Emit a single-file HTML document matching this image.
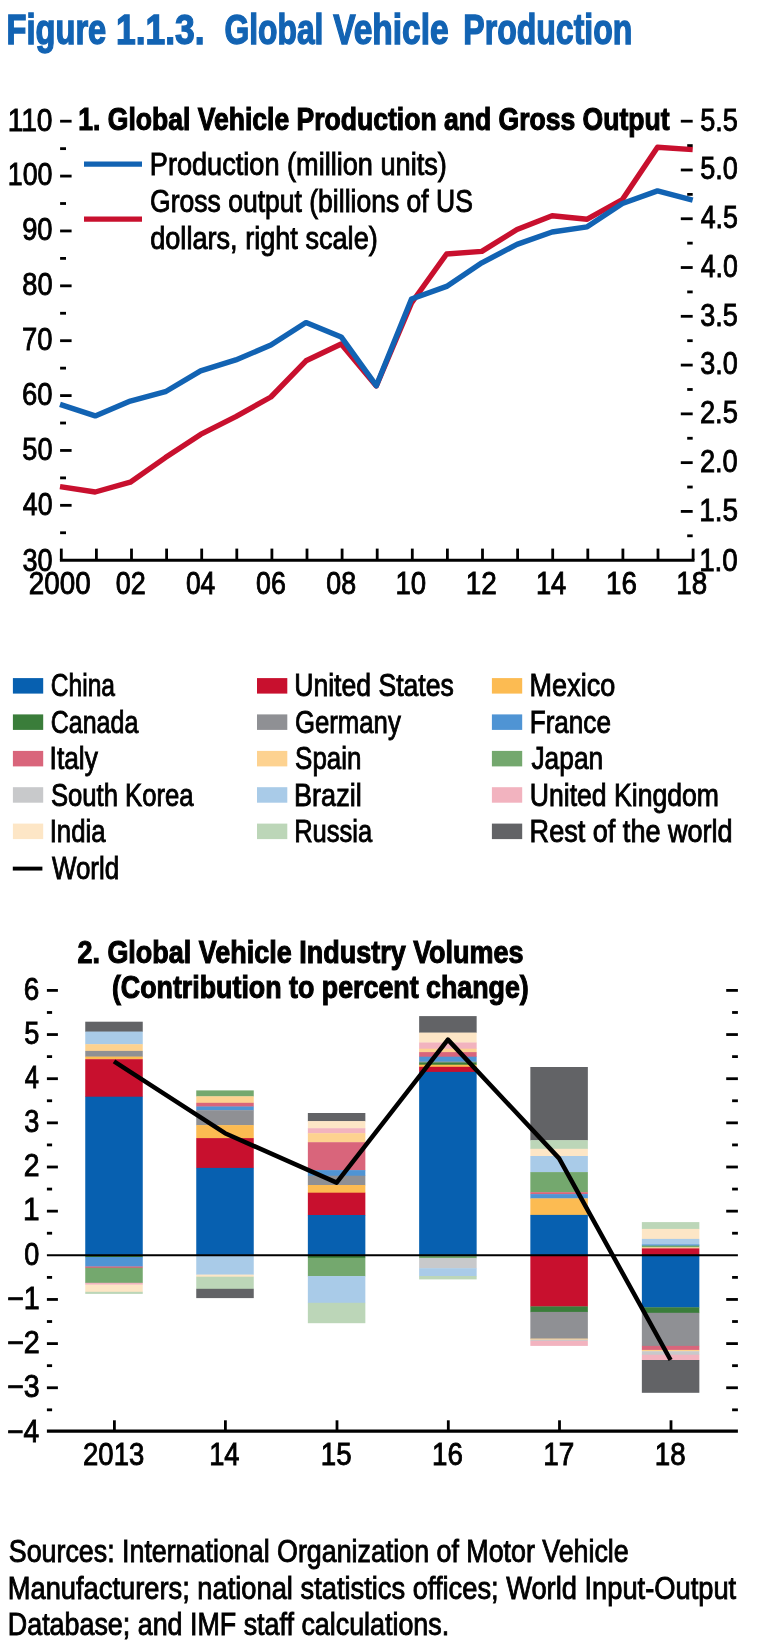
<!DOCTYPE html>
<html><head><meta charset="utf-8"><title>Figure 1.1.3. Global Vehicle Production</title>
<style>
html,body{margin:0;padding:0;background:#fff}
svg{display:block}
text{font-family:"Liberation Sans",sans-serif;white-space:pre}
</style></head><body>
<svg style="will-change:transform" width="774" height="1646" viewBox="0 0 774 1646" shape-rendering="geometricPrecision">
<rect width="774" height="1646" fill="#fff"/>
<line x1="60.10" y1="532.76" x2="66.00" y2="532.76" stroke="#000" stroke-width="2.8" stroke-linecap="butt"/>
<line x1="60.10" y1="505.33" x2="71.60" y2="505.33" stroke="#000" stroke-width="2.8" stroke-linecap="butt"/>
<line x1="60.10" y1="477.89" x2="66.00" y2="477.89" stroke="#000" stroke-width="2.8" stroke-linecap="butt"/>
<line x1="60.10" y1="450.45" x2="71.60" y2="450.45" stroke="#000" stroke-width="2.8" stroke-linecap="butt"/>
<line x1="60.10" y1="423.01" x2="66.00" y2="423.01" stroke="#000" stroke-width="2.8" stroke-linecap="butt"/>
<line x1="60.10" y1="395.58" x2="71.60" y2="395.58" stroke="#000" stroke-width="2.8" stroke-linecap="butt"/>
<line x1="60.10" y1="368.14" x2="66.00" y2="368.14" stroke="#000" stroke-width="2.8" stroke-linecap="butt"/>
<line x1="60.10" y1="340.70" x2="71.60" y2="340.70" stroke="#000" stroke-width="2.8" stroke-linecap="butt"/>
<line x1="60.10" y1="313.26" x2="66.00" y2="313.26" stroke="#000" stroke-width="2.8" stroke-linecap="butt"/>
<line x1="60.10" y1="285.83" x2="71.60" y2="285.83" stroke="#000" stroke-width="2.8" stroke-linecap="butt"/>
<line x1="60.10" y1="258.39" x2="66.00" y2="258.39" stroke="#000" stroke-width="2.8" stroke-linecap="butt"/>
<line x1="60.10" y1="230.95" x2="71.60" y2="230.95" stroke="#000" stroke-width="2.8" stroke-linecap="butt"/>
<line x1="60.10" y1="203.51" x2="66.00" y2="203.51" stroke="#000" stroke-width="2.8" stroke-linecap="butt"/>
<line x1="60.10" y1="176.08" x2="71.60" y2="176.08" stroke="#000" stroke-width="2.8" stroke-linecap="butt"/>
<line x1="60.10" y1="148.64" x2="66.00" y2="148.64" stroke="#000" stroke-width="2.8" stroke-linecap="butt"/>
<line x1="60.10" y1="121.20" x2="71.60" y2="121.20" stroke="#000" stroke-width="2.8" stroke-linecap="butt"/>
<line x1="687.20" y1="535.81" x2="692.70" y2="535.81" stroke="#000" stroke-width="2.8" stroke-linecap="butt"/>
<line x1="680.80" y1="511.42" x2="692.70" y2="511.42" stroke="#000" stroke-width="2.8" stroke-linecap="butt"/>
<line x1="687.20" y1="487.03" x2="692.70" y2="487.03" stroke="#000" stroke-width="2.8" stroke-linecap="butt"/>
<line x1="680.80" y1="462.64" x2="692.70" y2="462.64" stroke="#000" stroke-width="2.8" stroke-linecap="butt"/>
<line x1="687.20" y1="438.26" x2="692.70" y2="438.26" stroke="#000" stroke-width="2.8" stroke-linecap="butt"/>
<line x1="680.80" y1="413.87" x2="692.70" y2="413.87" stroke="#000" stroke-width="2.8" stroke-linecap="butt"/>
<line x1="687.20" y1="389.48" x2="692.70" y2="389.48" stroke="#000" stroke-width="2.8" stroke-linecap="butt"/>
<line x1="680.80" y1="365.09" x2="692.70" y2="365.09" stroke="#000" stroke-width="2.8" stroke-linecap="butt"/>
<line x1="687.20" y1="340.70" x2="692.70" y2="340.70" stroke="#000" stroke-width="2.8" stroke-linecap="butt"/>
<line x1="680.80" y1="316.31" x2="692.70" y2="316.31" stroke="#000" stroke-width="2.8" stroke-linecap="butt"/>
<line x1="687.20" y1="291.92" x2="692.70" y2="291.92" stroke="#000" stroke-width="2.8" stroke-linecap="butt"/>
<line x1="680.80" y1="267.53" x2="692.70" y2="267.53" stroke="#000" stroke-width="2.8" stroke-linecap="butt"/>
<line x1="687.20" y1="243.14" x2="692.70" y2="243.14" stroke="#000" stroke-width="2.8" stroke-linecap="butt"/>
<line x1="680.80" y1="218.75" x2="692.70" y2="218.75" stroke="#000" stroke-width="2.8" stroke-linecap="butt"/>
<line x1="687.20" y1="194.37" x2="692.70" y2="194.37" stroke="#000" stroke-width="2.8" stroke-linecap="butt"/>
<line x1="680.80" y1="169.98" x2="692.70" y2="169.98" stroke="#000" stroke-width="2.8" stroke-linecap="butt"/>
<line x1="687.20" y1="145.59" x2="692.70" y2="145.59" stroke="#000" stroke-width="2.8" stroke-linecap="butt"/>
<line x1="680.80" y1="121.20" x2="692.70" y2="121.20" stroke="#000" stroke-width="2.8" stroke-linecap="butt"/>
<line x1="59.90" y1="560.20" x2="694.50" y2="560.20" stroke="#000" stroke-width="3.1" stroke-linecap="butt"/>
<line x1="61.30" y1="548.60" x2="61.30" y2="560.20" stroke="#000" stroke-width="2.8" stroke-linecap="butt"/>
<line x1="96.40" y1="548.60" x2="96.40" y2="560.20" stroke="#000" stroke-width="2.8" stroke-linecap="butt"/>
<line x1="131.50" y1="548.60" x2="131.50" y2="560.20" stroke="#000" stroke-width="2.8" stroke-linecap="butt"/>
<line x1="166.60" y1="548.60" x2="166.60" y2="560.20" stroke="#000" stroke-width="2.8" stroke-linecap="butt"/>
<line x1="201.70" y1="548.60" x2="201.70" y2="560.20" stroke="#000" stroke-width="2.8" stroke-linecap="butt"/>
<line x1="236.80" y1="548.60" x2="236.80" y2="560.20" stroke="#000" stroke-width="2.8" stroke-linecap="butt"/>
<line x1="271.90" y1="548.60" x2="271.90" y2="560.20" stroke="#000" stroke-width="2.8" stroke-linecap="butt"/>
<line x1="307.00" y1="548.60" x2="307.00" y2="560.20" stroke="#000" stroke-width="2.8" stroke-linecap="butt"/>
<line x1="342.10" y1="548.60" x2="342.10" y2="560.20" stroke="#000" stroke-width="2.8" stroke-linecap="butt"/>
<line x1="377.20" y1="548.60" x2="377.20" y2="560.20" stroke="#000" stroke-width="2.8" stroke-linecap="butt"/>
<line x1="412.30" y1="548.60" x2="412.30" y2="560.20" stroke="#000" stroke-width="2.8" stroke-linecap="butt"/>
<line x1="447.40" y1="548.60" x2="447.40" y2="560.20" stroke="#000" stroke-width="2.8" stroke-linecap="butt"/>
<line x1="482.50" y1="548.60" x2="482.50" y2="560.20" stroke="#000" stroke-width="2.8" stroke-linecap="butt"/>
<line x1="517.60" y1="548.60" x2="517.60" y2="560.20" stroke="#000" stroke-width="2.8" stroke-linecap="butt"/>
<line x1="552.70" y1="548.60" x2="552.70" y2="560.20" stroke="#000" stroke-width="2.8" stroke-linecap="butt"/>
<line x1="587.80" y1="548.60" x2="587.80" y2="560.20" stroke="#000" stroke-width="2.8" stroke-linecap="butt"/>
<line x1="622.90" y1="548.60" x2="622.90" y2="560.20" stroke="#000" stroke-width="2.8" stroke-linecap="butt"/>
<line x1="658.00" y1="548.60" x2="658.00" y2="560.20" stroke="#000" stroke-width="2.8" stroke-linecap="butt"/>
<line x1="693.10" y1="548.60" x2="693.10" y2="560.20" stroke="#000" stroke-width="2.8" stroke-linecap="butt"/>
<line x1="84.00" y1="164.20" x2="142.00" y2="164.20" stroke="#1263b3" stroke-width="5.3" stroke-linecap="butt"/>
<line x1="84.00" y1="219.20" x2="142.00" y2="219.20" stroke="#c8102e" stroke-width="5.3" stroke-linecap="butt"/>
<polyline points="60.0,486.6 95.2,492.0 130.3,482.2 165.4,457.6 200.6,434.4 235.8,416.6 270.9,397.0 306.0,360.8 341.2,344.0 376.3,386.0 411.5,303.0 446.6,254.0 481.8,251.4 517.0,229.5 552.1,215.8 587.2,219.2 622.4,199.5 657.5,147.3 692.7,149.6" fill="none" stroke="#c8102e" stroke-width="5.4" stroke-linejoin="round"/>
<polyline points="60.0,404.4 95.2,415.9 130.3,401.1 165.4,391.7 200.6,370.9 235.8,359.9 270.9,345.1 306.0,322.6 341.2,336.9 376.3,385.7 411.5,299.0 446.6,286.4 481.8,262.8 517.0,244.4 552.1,232.0 587.2,226.8 622.4,203.5 657.5,190.9 692.7,200.2" fill="none" stroke="#1263b3" stroke-width="5.4" stroke-linejoin="round"/>
<rect x="12.90" y="678.10" width="30.30" height="15.50" fill="#0760b0"/>
<rect x="257.00" y="678.10" width="30.30" height="15.50" fill="#c8102e"/>
<rect x="491.90" y="678.10" width="30.30" height="15.50" fill="#fcbb52"/>
<rect x="12.90" y="714.40" width="30.30" height="15.50" fill="#3a7d3a"/>
<rect x="257.00" y="714.40" width="30.30" height="15.50" fill="#8f9094"/>
<rect x="491.90" y="714.40" width="30.30" height="15.50" fill="#4f94d4"/>
<rect x="12.90" y="750.90" width="30.30" height="15.50" fill="#d9657b"/>
<rect x="257.00" y="750.90" width="30.30" height="15.50" fill="#fdd290"/>
<rect x="491.90" y="750.90" width="30.30" height="15.50" fill="#74a86e"/>
<rect x="12.90" y="787.20" width="30.30" height="15.50" fill="#c8c9cb"/>
<rect x="257.00" y="787.20" width="30.30" height="15.50" fill="#a9cbe8"/>
<rect x="491.90" y="787.20" width="30.30" height="15.50" fill="#f2b3bf"/>
<rect x="12.90" y="823.60" width="30.30" height="15.50" fill="#fde6c6"/>
<rect x="257.00" y="823.60" width="30.30" height="15.50" fill="#bcd6b8"/>
<rect x="491.90" y="823.60" width="30.30" height="15.50" fill="#626366"/>
<line x1="12.80" y1="868.60" x2="42.40" y2="868.60" stroke="#000" stroke-width="3.9" stroke-linecap="butt"/>
<line x1="46.90" y1="1409.83" x2="52.10" y2="1409.83" stroke="#000" stroke-width="2.8" stroke-linecap="butt"/>
<line x1="732.10" y1="1409.83" x2="737.90" y2="1409.83" stroke="#000" stroke-width="2.8" stroke-linecap="butt"/>
<line x1="46.90" y1="1387.75" x2="57.90" y2="1387.75" stroke="#000" stroke-width="2.8" stroke-linecap="butt"/>
<line x1="46.90" y1="1365.67" x2="52.10" y2="1365.67" stroke="#000" stroke-width="2.8" stroke-linecap="butt"/>
<line x1="726.20" y1="1387.75" x2="737.90" y2="1387.75" stroke="#000" stroke-width="2.8" stroke-linecap="butt"/>
<line x1="732.10" y1="1365.67" x2="737.90" y2="1365.67" stroke="#000" stroke-width="2.8" stroke-linecap="butt"/>
<line x1="46.90" y1="1343.60" x2="57.90" y2="1343.60" stroke="#000" stroke-width="2.8" stroke-linecap="butt"/>
<line x1="46.90" y1="1321.52" x2="52.10" y2="1321.52" stroke="#000" stroke-width="2.8" stroke-linecap="butt"/>
<line x1="726.20" y1="1343.60" x2="737.90" y2="1343.60" stroke="#000" stroke-width="2.8" stroke-linecap="butt"/>
<line x1="732.10" y1="1321.52" x2="737.90" y2="1321.52" stroke="#000" stroke-width="2.8" stroke-linecap="butt"/>
<line x1="46.90" y1="1299.45" x2="57.90" y2="1299.45" stroke="#000" stroke-width="2.8" stroke-linecap="butt"/>
<line x1="46.90" y1="1277.38" x2="52.10" y2="1277.38" stroke="#000" stroke-width="2.8" stroke-linecap="butt"/>
<line x1="726.20" y1="1299.45" x2="737.90" y2="1299.45" stroke="#000" stroke-width="2.8" stroke-linecap="butt"/>
<line x1="732.10" y1="1277.38" x2="737.90" y2="1277.38" stroke="#000" stroke-width="2.8" stroke-linecap="butt"/>
<line x1="46.90" y1="1233.22" x2="52.10" y2="1233.22" stroke="#000" stroke-width="2.8" stroke-linecap="butt"/>
<line x1="732.10" y1="1233.22" x2="737.90" y2="1233.22" stroke="#000" stroke-width="2.8" stroke-linecap="butt"/>
<line x1="46.90" y1="1211.15" x2="57.90" y2="1211.15" stroke="#000" stroke-width="2.8" stroke-linecap="butt"/>
<line x1="46.90" y1="1189.08" x2="52.10" y2="1189.08" stroke="#000" stroke-width="2.8" stroke-linecap="butt"/>
<line x1="726.20" y1="1211.15" x2="737.90" y2="1211.15" stroke="#000" stroke-width="2.8" stroke-linecap="butt"/>
<line x1="732.10" y1="1189.08" x2="737.90" y2="1189.08" stroke="#000" stroke-width="2.8" stroke-linecap="butt"/>
<line x1="46.90" y1="1167.00" x2="57.90" y2="1167.00" stroke="#000" stroke-width="2.8" stroke-linecap="butt"/>
<line x1="46.90" y1="1144.92" x2="52.10" y2="1144.92" stroke="#000" stroke-width="2.8" stroke-linecap="butt"/>
<line x1="726.20" y1="1167.00" x2="737.90" y2="1167.00" stroke="#000" stroke-width="2.8" stroke-linecap="butt"/>
<line x1="732.10" y1="1144.92" x2="737.90" y2="1144.92" stroke="#000" stroke-width="2.8" stroke-linecap="butt"/>
<line x1="46.90" y1="1122.85" x2="57.90" y2="1122.85" stroke="#000" stroke-width="2.8" stroke-linecap="butt"/>
<line x1="46.90" y1="1100.77" x2="52.10" y2="1100.77" stroke="#000" stroke-width="2.8" stroke-linecap="butt"/>
<line x1="726.20" y1="1122.85" x2="737.90" y2="1122.85" stroke="#000" stroke-width="2.8" stroke-linecap="butt"/>
<line x1="732.10" y1="1100.77" x2="737.90" y2="1100.77" stroke="#000" stroke-width="2.8" stroke-linecap="butt"/>
<line x1="46.90" y1="1078.70" x2="57.90" y2="1078.70" stroke="#000" stroke-width="2.8" stroke-linecap="butt"/>
<line x1="46.90" y1="1056.62" x2="52.10" y2="1056.62" stroke="#000" stroke-width="2.8" stroke-linecap="butt"/>
<line x1="726.20" y1="1078.70" x2="737.90" y2="1078.70" stroke="#000" stroke-width="2.8" stroke-linecap="butt"/>
<line x1="732.10" y1="1056.62" x2="737.90" y2="1056.62" stroke="#000" stroke-width="2.8" stroke-linecap="butt"/>
<line x1="46.90" y1="1034.55" x2="57.90" y2="1034.55" stroke="#000" stroke-width="2.8" stroke-linecap="butt"/>
<line x1="46.90" y1="1012.47" x2="52.10" y2="1012.47" stroke="#000" stroke-width="2.8" stroke-linecap="butt"/>
<line x1="726.20" y1="1034.55" x2="737.90" y2="1034.55" stroke="#000" stroke-width="2.8" stroke-linecap="butt"/>
<line x1="732.10" y1="1012.47" x2="737.90" y2="1012.47" stroke="#000" stroke-width="2.8" stroke-linecap="butt"/>
<line x1="46.90" y1="990.40" x2="57.90" y2="990.40" stroke="#000" stroke-width="2.8" stroke-linecap="butt"/>
<line x1="726.20" y1="990.40" x2="737.90" y2="990.40" stroke="#000" stroke-width="2.8" stroke-linecap="butt"/>
<rect x="85.25" y="1021.70" width="57.50" height="10.20" fill="#626366"/>
<rect x="85.25" y="1031.60" width="57.50" height="12.90" fill="#a9cbe8"/>
<rect x="85.25" y="1044.20" width="57.50" height="7.00" fill="#fdd290"/>
<rect x="85.25" y="1050.90" width="57.50" height="6.00" fill="#8f9094"/>
<rect x="85.25" y="1056.60" width="57.50" height="2.90" fill="#fcbb52"/>
<rect x="85.25" y="1059.20" width="57.50" height="37.80" fill="#c8102e"/>
<rect x="85.25" y="1096.70" width="57.50" height="158.50" fill="#0760b0"/>
<rect x="85.25" y="1254.90" width="57.50" height="2.40" fill="#3a7d3a"/>
<rect x="85.25" y="1257.00" width="57.50" height="9.80" fill="#4f94d4"/>
<rect x="85.25" y="1266.50" width="57.50" height="1.60" fill="#d9657b"/>
<rect x="85.25" y="1267.80" width="57.50" height="15.30" fill="#74a86e"/>
<rect x="85.25" y="1282.80" width="57.50" height="2.10" fill="#f2b3bf"/>
<rect x="85.25" y="1284.60" width="57.50" height="7.50" fill="#fde6c6"/>
<rect x="85.25" y="1291.80" width="57.50" height="2.10" fill="#bcd6b8"/>
<rect x="196.25" y="1090.40" width="57.50" height="6.20" fill="#74a86e"/>
<rect x="196.25" y="1096.30" width="57.50" height="6.80" fill="#fdd290"/>
<rect x="196.25" y="1102.80" width="57.50" height="4.00" fill="#d9657b"/>
<rect x="196.25" y="1106.50" width="57.50" height="4.00" fill="#4f94d4"/>
<rect x="196.25" y="1110.20" width="57.50" height="15.20" fill="#8f9094"/>
<rect x="196.25" y="1125.10" width="57.50" height="13.30" fill="#fcbb52"/>
<rect x="196.25" y="1138.10" width="57.50" height="30.10" fill="#c8102e"/>
<rect x="196.25" y="1167.90" width="57.50" height="87.30" fill="#0760b0"/>
<rect x="196.25" y="1254.90" width="57.50" height="20.00" fill="#a9cbe8"/>
<rect x="196.25" y="1274.60" width="57.50" height="2.40" fill="#fde6c6"/>
<rect x="196.25" y="1276.70" width="57.50" height="12.40" fill="#bcd6b8"/>
<rect x="196.25" y="1288.80" width="57.50" height="9.30" fill="#626366"/>
<rect x="307.85" y="1113.00" width="57.50" height="8.40" fill="#626366"/>
<rect x="307.85" y="1121.10" width="57.50" height="7.40" fill="#fde6c6"/>
<rect x="307.85" y="1128.20" width="57.50" height="5.30" fill="#f2b3bf"/>
<rect x="307.85" y="1133.20" width="57.50" height="9.30" fill="#fdd290"/>
<rect x="307.85" y="1142.20" width="57.50" height="28.20" fill="#d9657b"/>
<rect x="307.85" y="1170.10" width="57.50" height="5.90" fill="#4f94d4"/>
<rect x="307.85" y="1175.70" width="57.50" height="9.60" fill="#8f9094"/>
<rect x="307.85" y="1185.00" width="57.50" height="8.00" fill="#fcbb52"/>
<rect x="307.85" y="1192.70" width="57.50" height="22.60" fill="#c8102e"/>
<rect x="307.85" y="1215.00" width="57.50" height="40.20" fill="#0760b0"/>
<rect x="307.85" y="1254.90" width="57.50" height="3.20" fill="#3a7d3a"/>
<rect x="307.85" y="1257.80" width="57.50" height="18.60" fill="#74a86e"/>
<rect x="307.85" y="1276.10" width="57.50" height="27.00" fill="#a9cbe8"/>
<rect x="307.85" y="1302.80" width="57.50" height="20.40" fill="#bcd6b8"/>
<rect x="419.15" y="1016.10" width="57.50" height="16.80" fill="#626366"/>
<rect x="419.15" y="1032.60" width="57.50" height="10.20" fill="#fde6c6"/>
<rect x="419.15" y="1042.50" width="57.50" height="6.50" fill="#f2b3bf"/>
<rect x="419.15" y="1048.70" width="57.50" height="3.70" fill="#fdd290"/>
<rect x="419.15" y="1052.10" width="57.50" height="4.90" fill="#d9657b"/>
<rect x="419.15" y="1056.70" width="57.50" height="5.20" fill="#4f94d4"/>
<rect x="419.15" y="1061.60" width="57.50" height="1.10" fill="#8f9094"/>
<rect x="419.15" y="1062.40" width="57.50" height="2.60" fill="#3a7d3a"/>
<rect x="419.15" y="1064.70" width="57.50" height="2.40" fill="#fcbb52"/>
<rect x="419.15" y="1066.80" width="57.50" height="5.40" fill="#c8102e"/>
<rect x="419.15" y="1071.90" width="57.50" height="183.30" fill="#0760b0"/>
<rect x="419.15" y="1254.90" width="57.50" height="3.40" fill="#74a86e"/>
<rect x="419.15" y="1258.00" width="57.50" height="10.50" fill="#c8c9cb"/>
<rect x="419.15" y="1268.20" width="57.50" height="8.10" fill="#a9cbe8"/>
<rect x="419.15" y="1276.00" width="57.50" height="3.40" fill="#bcd6b8"/>
<rect x="530.35" y="1067.00" width="57.50" height="73.50" fill="#626366"/>
<rect x="530.35" y="1140.20" width="57.50" height="8.90" fill="#bcd6b8"/>
<rect x="530.35" y="1148.80" width="57.50" height="7.50" fill="#fde6c6"/>
<rect x="530.35" y="1156.00" width="57.50" height="16.40" fill="#a9cbe8"/>
<rect x="530.35" y="1172.10" width="57.50" height="20.40" fill="#74a86e"/>
<rect x="530.35" y="1192.20" width="57.50" height="2.20" fill="#d9657b"/>
<rect x="530.35" y="1194.10" width="57.50" height="4.60" fill="#4f94d4"/>
<rect x="530.35" y="1198.40" width="57.50" height="16.80" fill="#fcbb52"/>
<rect x="530.35" y="1214.90" width="57.50" height="40.30" fill="#0760b0"/>
<rect x="530.35" y="1254.90" width="57.50" height="51.80" fill="#c8102e"/>
<rect x="530.35" y="1306.40" width="57.50" height="5.80" fill="#3a7d3a"/>
<rect x="530.35" y="1311.90" width="57.50" height="27.00" fill="#8f9094"/>
<rect x="530.35" y="1338.60" width="57.50" height="1.30" fill="#fdd290"/>
<rect x="530.35" y="1339.60" width="57.50" height="1.50" fill="#c8c9cb"/>
<rect x="530.35" y="1340.80" width="57.50" height="5.10" fill="#f2b3bf"/>
<rect x="641.85" y="1222.10" width="57.50" height="7.10" fill="#bcd6b8"/>
<rect x="641.85" y="1228.90" width="57.50" height="10.30" fill="#fde6c6"/>
<rect x="641.85" y="1238.90" width="57.50" height="5.80" fill="#a9cbe8"/>
<rect x="641.85" y="1244.40" width="57.50" height="1.50" fill="#4f94d4"/>
<rect x="641.85" y="1245.60" width="57.50" height="2.00" fill="#74a86e"/>
<rect x="641.85" y="1247.30" width="57.50" height="1.40" fill="#fdd290"/>
<rect x="641.85" y="1248.40" width="57.50" height="6.80" fill="#c8102e"/>
<rect x="641.85" y="1254.90" width="57.50" height="52.70" fill="#0760b0"/>
<rect x="641.85" y="1307.30" width="57.50" height="5.80" fill="#3a7d3a"/>
<rect x="641.85" y="1312.80" width="57.50" height="33.40" fill="#8f9094"/>
<rect x="641.85" y="1345.90" width="57.50" height="4.30" fill="#d9657b"/>
<rect x="641.85" y="1349.90" width="57.50" height="1.60" fill="#fdd290"/>
<rect x="641.85" y="1351.20" width="57.50" height="3.80" fill="#c8c9cb"/>
<rect x="641.85" y="1354.70" width="57.50" height="5.60" fill="#f2b3bf"/>
<rect x="641.85" y="1360.00" width="57.50" height="32.80" fill="#626366"/>
<line x1="46.90" y1="1255.20" x2="737.90" y2="1255.20" stroke="#000" stroke-width="2.0" stroke-linecap="butt"/>
<polyline points="114.0,1061.4 225.0,1133.2 336.6,1182.6 447.9,1039.6 559.1,1158.4 670.6,1360.0" fill="none" stroke="#000" stroke-width="4.5" stroke-linejoin="round"/>
<line x1="46.90" y1="1431.10" x2="737.90" y2="1431.10" stroke="#000" stroke-width="3.1" stroke-linecap="butt"/>
<line x1="114.40" y1="1420.30" x2="114.40" y2="1430.90" stroke="#000" stroke-width="2.8" stroke-linecap="butt"/>
<line x1="225.40" y1="1420.30" x2="225.40" y2="1430.90" stroke="#000" stroke-width="2.8" stroke-linecap="butt"/>
<line x1="337.00" y1="1420.30" x2="337.00" y2="1430.90" stroke="#000" stroke-width="2.8" stroke-linecap="butt"/>
<line x1="448.30" y1="1420.30" x2="448.30" y2="1430.90" stroke="#000" stroke-width="2.8" stroke-linecap="butt"/>
<line x1="559.50" y1="1420.30" x2="559.50" y2="1430.90" stroke="#000" stroke-width="2.8" stroke-linecap="butt"/>
<line x1="671.00" y1="1420.30" x2="671.00" y2="1430.90" stroke="#000" stroke-width="2.8" stroke-linecap="butt"/>
<g class="kb">
<text x="6.50" y="43.50" font-size="42.60" textLength="99.79" lengthAdjust="spacingAndGlyphs" font-weight="700" fill="#1263b3" stroke="#1263b3" stroke-width="1.4">Figure</text>
<text x="115.98" y="43.50" font-size="42.60" textLength="88.69" lengthAdjust="spacingAndGlyphs" font-weight="700" fill="#1263b3" stroke="#1263b3" stroke-width="1.4">1.1.3.</text>
<text x="224.43" y="43.50" font-size="42.60" textLength="99.05" lengthAdjust="spacingAndGlyphs" font-weight="700" fill="#1263b3" stroke="#1263b3" stroke-width="1.4">Global</text>
<text x="333.15" y="43.50" font-size="42.60" textLength="115.61" lengthAdjust="spacingAndGlyphs" font-weight="700" fill="#1263b3" stroke="#1263b3" stroke-width="1.4">Vehicle</text>
<text x="463.34" y="43.50" font-size="42.60" textLength="169.08" lengthAdjust="spacingAndGlyphs" font-weight="700" fill="#1263b3" stroke="#1263b3" stroke-width="1.4">Production</text>
</g>
<g class="kk">
<text x="22.44" y="570.80" font-size="31.30" textLength="30.09" lengthAdjust="spacingAndGlyphs" stroke="#000" stroke-width="0.9">30</text>
<text x="22.85" y="514.73" font-size="31.30" textLength="29.66" lengthAdjust="spacingAndGlyphs" stroke="#000" stroke-width="0.9">40</text>
<text x="22.37" y="459.85" font-size="31.30" textLength="30.17" lengthAdjust="spacingAndGlyphs" stroke="#000" stroke-width="0.9">50</text>
<text x="22.08" y="404.98" font-size="31.30" textLength="30.46" lengthAdjust="spacingAndGlyphs" stroke="#000" stroke-width="0.9">60</text>
<text x="22.08" y="350.10" font-size="31.30" textLength="30.46" lengthAdjust="spacingAndGlyphs" stroke="#000" stroke-width="0.9">70</text>
<text x="22.29" y="295.23" font-size="31.30" textLength="30.24" lengthAdjust="spacingAndGlyphs" stroke="#000" stroke-width="0.9">80</text>
<text x="22.15" y="240.35" font-size="31.30" textLength="30.39" lengthAdjust="spacingAndGlyphs" stroke="#000" stroke-width="0.9">90</text>
<text x="7.74" y="185.48" font-size="31.30" textLength="44.74" lengthAdjust="spacingAndGlyphs" stroke="#000" stroke-width="0.9">100</text>
<text x="7.64" y="130.60" font-size="31.30" textLength="44.92" lengthAdjust="spacingAndGlyphs" stroke="#000" stroke-width="0.9">110</text>
<text x="699.17" y="570.80" font-size="31.30" textLength="38.63" lengthAdjust="spacingAndGlyphs" stroke="#000" stroke-width="0.9">1.0</text>
<text x="699.16" y="520.82" font-size="31.30" textLength="38.71" lengthAdjust="spacingAndGlyphs" stroke="#000" stroke-width="0.9">1.5</text>
<text x="699.89" y="472.04" font-size="31.30" textLength="37.89" lengthAdjust="spacingAndGlyphs" stroke="#000" stroke-width="0.9">2.0</text>
<text x="699.88" y="423.27" font-size="31.30" textLength="37.96" lengthAdjust="spacingAndGlyphs" stroke="#000" stroke-width="0.9">2.5</text>
<text x="700.24" y="374.49" font-size="31.30" textLength="37.53" lengthAdjust="spacingAndGlyphs" stroke="#000" stroke-width="0.9">3.0</text>
<text x="700.24" y="325.71" font-size="31.30" textLength="37.60" lengthAdjust="spacingAndGlyphs" stroke="#000" stroke-width="0.9">3.5</text>
<text x="700.65" y="276.93" font-size="31.30" textLength="37.11" lengthAdjust="spacingAndGlyphs" stroke="#000" stroke-width="0.9">4.0</text>
<text x="700.65" y="228.15" font-size="31.30" textLength="37.18" lengthAdjust="spacingAndGlyphs" stroke="#000" stroke-width="0.9">4.5</text>
<text x="700.17" y="179.38" font-size="31.30" textLength="37.60" lengthAdjust="spacingAndGlyphs" stroke="#000" stroke-width="0.9">5.0</text>
<text x="700.17" y="130.60" font-size="31.30" textLength="37.67" lengthAdjust="spacingAndGlyphs" stroke="#000" stroke-width="0.9">5.5</text>
<text x="28.86" y="594.20" font-size="31.30" textLength="61.79" lengthAdjust="spacingAndGlyphs" stroke="#000" stroke-width="0.9">2000</text>
<text x="115.67" y="594.20" font-size="31.30" textLength="29.99" lengthAdjust="spacingAndGlyphs" stroke="#000" stroke-width="0.9">02</text>
<text x="185.89" y="594.20" font-size="31.30" textLength="29.34" lengthAdjust="spacingAndGlyphs" stroke="#000" stroke-width="0.9">04</text>
<text x="256.08" y="594.20" font-size="31.30" textLength="29.77" lengthAdjust="spacingAndGlyphs" stroke="#000" stroke-width="0.9">06</text>
<text x="326.28" y="594.20" font-size="31.30" textLength="29.77" lengthAdjust="spacingAndGlyphs" stroke="#000" stroke-width="0.9">08</text>
<text x="395.48" y="594.20" font-size="31.30" textLength="30.67" lengthAdjust="spacingAndGlyphs" stroke="#000" stroke-width="0.9">10</text>
<text x="465.66" y="594.20" font-size="31.30" textLength="31.06" lengthAdjust="spacingAndGlyphs" stroke="#000" stroke-width="0.9">12</text>
<text x="535.90" y="594.20" font-size="31.30" textLength="30.36" lengthAdjust="spacingAndGlyphs" stroke="#000" stroke-width="0.9">14</text>
<text x="606.07" y="594.20" font-size="31.30" textLength="30.82" lengthAdjust="spacingAndGlyphs" stroke="#000" stroke-width="0.9">16</text>
<text x="676.27" y="594.20" font-size="31.30" textLength="30.82" lengthAdjust="spacingAndGlyphs" stroke="#000" stroke-width="0.9">18</text>
<text x="78.29" y="130.20" font-size="31.30" textLength="591.23" lengthAdjust="spacingAndGlyphs" font-weight="700" stroke="#000" stroke-width="1.1">1. Global Vehicle Production and Gross Output</text>
<text x="149.81" y="175.30" font-size="31.30" textLength="297.01" lengthAdjust="spacingAndGlyphs" stroke="#000" stroke-width="0.9">Production (million units)</text>
<text x="150.02" y="212.00" font-size="31.30" textLength="322.92" lengthAdjust="spacingAndGlyphs" stroke="#000" stroke-width="0.9">Gross output (billions of US</text>
<text x="150.20" y="248.80" font-size="31.30" textLength="227.58" lengthAdjust="spacingAndGlyphs" stroke="#000" stroke-width="0.9">dollars, right scale)</text>
<text x="50.82" y="696.30" font-size="31.30" textLength="64.18" lengthAdjust="spacingAndGlyphs" stroke="#000" stroke-width="0.9">China</text>
<text x="294.19" y="696.30" font-size="31.30" textLength="159.62" lengthAdjust="spacingAndGlyphs" stroke="#000" stroke-width="0.9">United States</text>
<text x="529.62" y="696.30" font-size="31.30" textLength="85.61" lengthAdjust="spacingAndGlyphs" stroke="#000" stroke-width="0.9">Mexico</text>
<text x="50.80" y="732.80" font-size="31.30" textLength="87.50" lengthAdjust="spacingAndGlyphs" stroke="#000" stroke-width="0.9">Canada</text>
<text x="294.96" y="732.80" font-size="31.30" textLength="105.85" lengthAdjust="spacingAndGlyphs" stroke="#000" stroke-width="0.9">Germany</text>
<text x="529.70" y="732.80" font-size="31.30" textLength="81.22" lengthAdjust="spacingAndGlyphs" stroke="#000" stroke-width="0.9">France</text>
<text x="49.62" y="769.30" font-size="31.30" textLength="48.17" lengthAdjust="spacingAndGlyphs" stroke="#000" stroke-width="0.9">Italy</text>
<text x="295.08" y="769.30" font-size="31.30" textLength="66.40" lengthAdjust="spacingAndGlyphs" stroke="#000" stroke-width="0.9">Spain</text>
<text x="531.46" y="769.30" font-size="31.30" textLength="71.70" lengthAdjust="spacingAndGlyphs" stroke="#000" stroke-width="0.9">Japan</text>
<text x="50.90" y="805.70" font-size="31.30" textLength="142.65" lengthAdjust="spacingAndGlyphs" stroke="#000" stroke-width="0.9">South Korea</text>
<text x="294.02" y="805.70" font-size="31.30" textLength="67.67" lengthAdjust="spacingAndGlyphs" stroke="#000" stroke-width="0.9">Brazil</text>
<text x="529.79" y="805.70" font-size="31.30" textLength="189.20" lengthAdjust="spacingAndGlyphs" stroke="#000" stroke-width="0.9">United Kingdom</text>
<text x="49.67" y="842.20" font-size="31.30" textLength="55.84" lengthAdjust="spacingAndGlyphs" stroke="#000" stroke-width="0.9">India</text>
<text x="294.14" y="842.20" font-size="31.30" textLength="78.09" lengthAdjust="spacingAndGlyphs" stroke="#000" stroke-width="0.9">Russia</text>
<text x="529.62" y="842.20" font-size="31.30" textLength="203.06" lengthAdjust="spacingAndGlyphs" stroke="#000" stroke-width="0.9">Rest of the world</text>
<text x="51.92" y="878.70" font-size="31.30" textLength="67.27" lengthAdjust="spacingAndGlyphs" stroke="#000" stroke-width="0.9">World</text>
<text x="7.04" y="1442.40" font-size="31.30" textLength="32.09" lengthAdjust="spacingAndGlyphs" stroke="#000" stroke-width="0.9">−4</text>
<text x="7.02" y="1396.95" font-size="31.30" textLength="32.54" lengthAdjust="spacingAndGlyphs" stroke="#000" stroke-width="0.9">−3</text>
<text x="7.01" y="1352.80" font-size="31.30" textLength="32.78" lengthAdjust="spacingAndGlyphs" stroke="#000" stroke-width="0.9">−2</text>
<text x="7.02" y="1308.65" font-size="31.30" textLength="32.70" lengthAdjust="spacingAndGlyphs" stroke="#000" stroke-width="0.9">−1</text>
<text x="24.17" y="1264.50" font-size="31.30" textLength="15.03" lengthAdjust="spacingAndGlyphs" stroke="#000" stroke-width="0.9">0</text>
<text x="23.01" y="1220.35" font-size="31.30" textLength="16.59" lengthAdjust="spacingAndGlyphs" stroke="#000" stroke-width="0.9">1</text>
<text x="23.83" y="1176.20" font-size="31.30" textLength="15.77" lengthAdjust="spacingAndGlyphs" stroke="#000" stroke-width="0.9">2</text>
<text x="24.23" y="1132.05" font-size="31.30" textLength="15.10" lengthAdjust="spacingAndGlyphs" stroke="#000" stroke-width="0.9">3</text>
<text x="24.68" y="1087.90" font-size="31.30" textLength="14.21" lengthAdjust="spacingAndGlyphs" stroke="#000" stroke-width="0.9">4</text>
<text x="24.16" y="1043.75" font-size="31.30" textLength="15.10" lengthAdjust="spacingAndGlyphs" stroke="#000" stroke-width="0.9">5</text>
<text x="23.86" y="999.60" font-size="31.30" textLength="15.51" lengthAdjust="spacingAndGlyphs" stroke="#000" stroke-width="0.9">6</text>
<text x="77.41" y="962.60" font-size="31.30" textLength="446.13" lengthAdjust="spacingAndGlyphs" font-weight="700" stroke="#000" stroke-width="1.1">2. Global Vehicle Industry Volumes</text>
<text x="111.91" y="998.40" font-size="31.30" textLength="416.89" lengthAdjust="spacingAndGlyphs" font-weight="700" stroke="#000" stroke-width="1.1">(Contribution to percent change)</text>
<text x="83.08" y="1464.90" font-size="31.30" textLength="61.10" lengthAdjust="spacingAndGlyphs" stroke="#000" stroke-width="0.9">2013</text>
<text x="209.20" y="1464.90" font-size="31.30" textLength="30.36" lengthAdjust="spacingAndGlyphs" stroke="#000" stroke-width="0.9">14</text>
<text x="320.78" y="1464.90" font-size="31.30" textLength="30.74" lengthAdjust="spacingAndGlyphs" stroke="#000" stroke-width="0.9">15</text>
<text x="432.07" y="1464.90" font-size="31.30" textLength="30.82" lengthAdjust="spacingAndGlyphs" stroke="#000" stroke-width="0.9">16</text>
<text x="543.26" y="1464.90" font-size="31.30" textLength="31.06" lengthAdjust="spacingAndGlyphs" stroke="#000" stroke-width="0.9">17</text>
<text x="654.77" y="1464.90" font-size="31.30" textLength="30.82" lengthAdjust="spacingAndGlyphs" stroke="#000" stroke-width="0.9">18</text>
<text x="8.84" y="1561.80" font-size="31.30" textLength="619.91" lengthAdjust="spacingAndGlyphs" stroke="#000" stroke-width="0.9">Sources: International Organization of Motor Vehicle</text>
<text x="7.80" y="1598.90" font-size="31.30" textLength="728.39" lengthAdjust="spacingAndGlyphs" stroke="#000" stroke-width="0.9">Manufacturers; national statistics offices; World Input-Output</text>
<text x="7.83" y="1635.20" font-size="31.30" textLength="441.34" lengthAdjust="spacingAndGlyphs" stroke="#000" stroke-width="0.9">Database; and IMF staff calculations.</text>
</g>
</svg>
</body></html>
